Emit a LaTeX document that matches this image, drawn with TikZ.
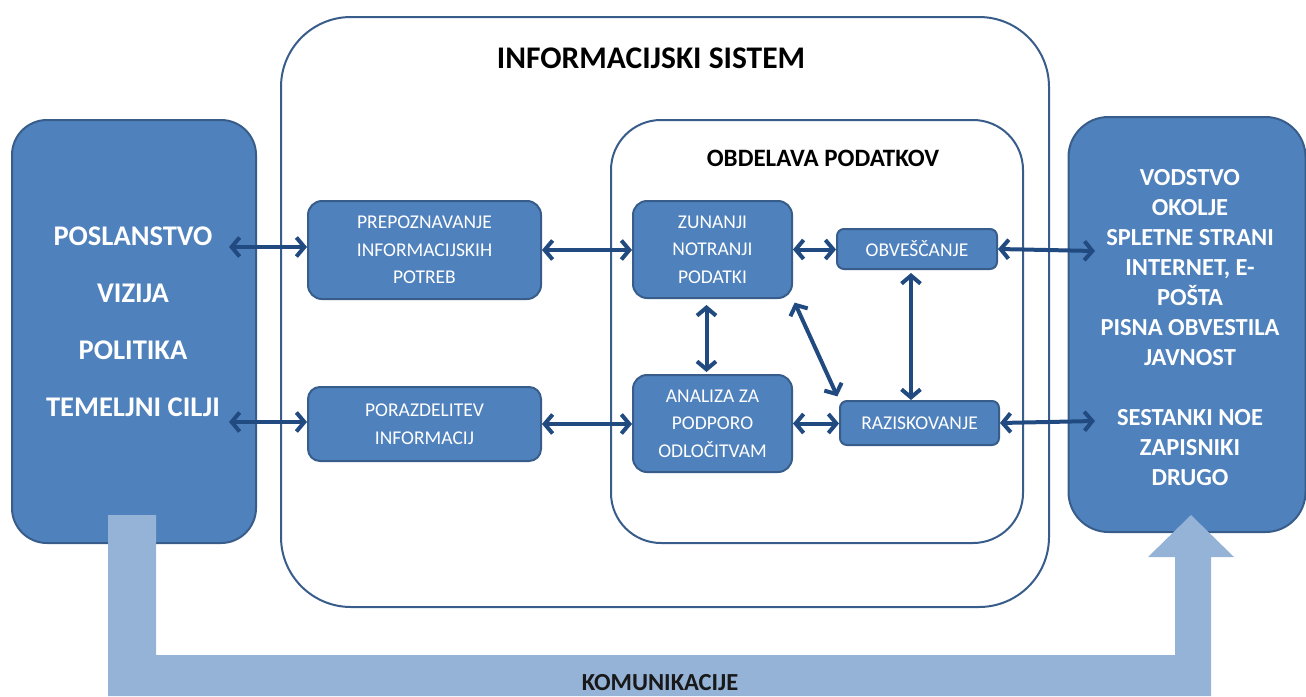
\documentclass[tikz,border=0pt]{standalone}
\usepackage{fontspec}
\setmainfont{Carlito}
\usetikzlibrary{arrows.meta}
\definecolor{boxfill}{RGB}{79,129,189}
\definecolor{boxline}{RGB}{56,93,138}
\definecolor{arrowc}{RGB}{33,74,128}
\definecolor{lightbar}{RGB}{149,179,215}
\tikzset{
  bluebox/.style={draw=boxline, line width=2pt, fill=boxfill, text=white, align=center, inner sep=0pt},
  smalltext/.style={font=\fontsize{19.5}{27.5}\selectfont},
  frame/.style={draw=boxline, line width=2pt, fill=white, inner sep=0pt},
  dbl/.style={{Straight Barb[length=8pt,width=19pt]}-{Straight Barb[length=8pt,width=19pt]}, line width=4pt, draw=arrowc},
}
\begin{document}
\begin{tikzpicture}[x=1pt,y=-1pt]
\useasboundingbox (0,0) rectangle (1306,696);
% outer frames
\node[frame, rounded corners=70pt, minimum width=768pt, minimum height=590pt] (is) at (665,312) {};
\node[font=\bfseries\fontsize{31.5}{36}\selectfont] (istitle) at (651,58) {INFORMACIJSKI SISTEM};
\node[frame, rounded corners=50pt, minimum width=412pt, minimum height=423pt] (obd) at (817,331.5) {};
\node[font=\bfseries\fontsize{25}{30}\selectfont] (obdtitle) at (823,158) {OBDELAVA PODATKOV};
% side boxes
\node[bluebox, rounded corners=35pt, minimum width=244pt, minimum height=423pt] (left) at (134,331.5) {};
\node[text=white, align=center, font=\bfseries\fontsize{28.5}{57}\selectfont] (lefttxt) at (133,321.5) {POSLANSTVO\\VIZIJA\\POLITIKA\\TEMELJNI CILJI};
\node[bluebox, rounded corners=40pt, minimum width=237pt, minimum height=415pt] (right) at (1187,324.5) {};
\node[text=white, align=center, font=\bfseries\fontsize{24.5}{30}\selectfont] (righttxt) at (1190,327.5) {VODSTVO\\OKOLJE\\SPLETNE STRANI\\INTERNET, E-\\POŠTA\\PISNA OBVESTILA\\JAVNOST\\[30pt]SESTANKI NOE\\ZAPISNIKI\\DRUGO};
% inner boxes
\node[bluebox, smalltext, rounded corners=14pt, minimum width=233pt, minimum height=98pt] (prep) at (424.5,250) {PREPOZNAVANJE\\INFORMACIJSKIH\\POTREB};
\node[bluebox, smalltext, rounded corners=12pt, minimum width=233pt, minimum height=74pt] (poraz) at (424.5,424) {PORAZDELITEV\\INFORMACIJ};
\node[bluebox, smalltext, rounded corners=14pt, minimum width=159pt, minimum height=97pt] (zun) at (712.5,249.5) {ZUNANJI\\NOTRANJI\\PODATKI};
\node[bluebox, smalltext, rounded corners=14pt, minimum width=159pt, minimum height=97pt] (ana) at (712.5,423.5) {ANALIZA ZA\\PODPORO\\ODLOČITVAM};
\node[bluebox, smalltext, rounded corners=7pt, minimum width=160pt, minimum height=40pt] (obv) at (917,249) {OBVEŠČANJE};
\node[bluebox, smalltext, rounded corners=7pt, minimum width=159pt, minimum height=44pt] (raz) at (919.5,423) {RAZISKOVANJE};
% arrows
\coordinate (l1) at (229,247);
\coordinate (l2) at (229,422);
\coordinate (r1) at (1095,251);
\coordinate (r2) at (1095,421);
\draw[dbl] (l1) -- (l1 -| prep.west);
\draw[dbl] (l2) -- (l2 -| poraz.west);
\draw[dbl] (prep.east) -- (prep.east -| zun.west);
\draw[dbl] (poraz.east) -- (poraz.east -| ana.west);
\draw[dbl] (zun.east) -- (zun.east -| obv.west);
\draw[dbl] (ana.east) -- (ana.east -| raz.west);
\draw[dbl, shorten <=6pt, shorten >=2pt] ([xshift=-6pt]zun.south) -- ([xshift=-6pt]ana.north);
\draw[dbl, shorten <=4pt, shorten >=4pt] (zun.south east) -- (raz.north west);
\draw[dbl, shorten <=3pt] ([xshift=-6pt]obv.south) -- ([xshift=-6pt]obv.south |- raz.north);
\draw[dbl] (obv.east) -- (r1);
\draw[dbl] (raz.east) -- (r2);
% communication arrow
\fill[lightbar] (108,515) -- (156,515) -- (156,655) -- (1175,655) -- (1175,557) -- (1148,557) -- (1191,515) -- (1234,557) -- (1211,557) -- (1211,696) -- (108,696) -- cycle;
\node[font=\bfseries\fontsize{24.5}{28}\selectfont, text=black!90] (kom) at (660,683) {KOMUNIKACIJE};
\end{tikzpicture}
\end{document}
